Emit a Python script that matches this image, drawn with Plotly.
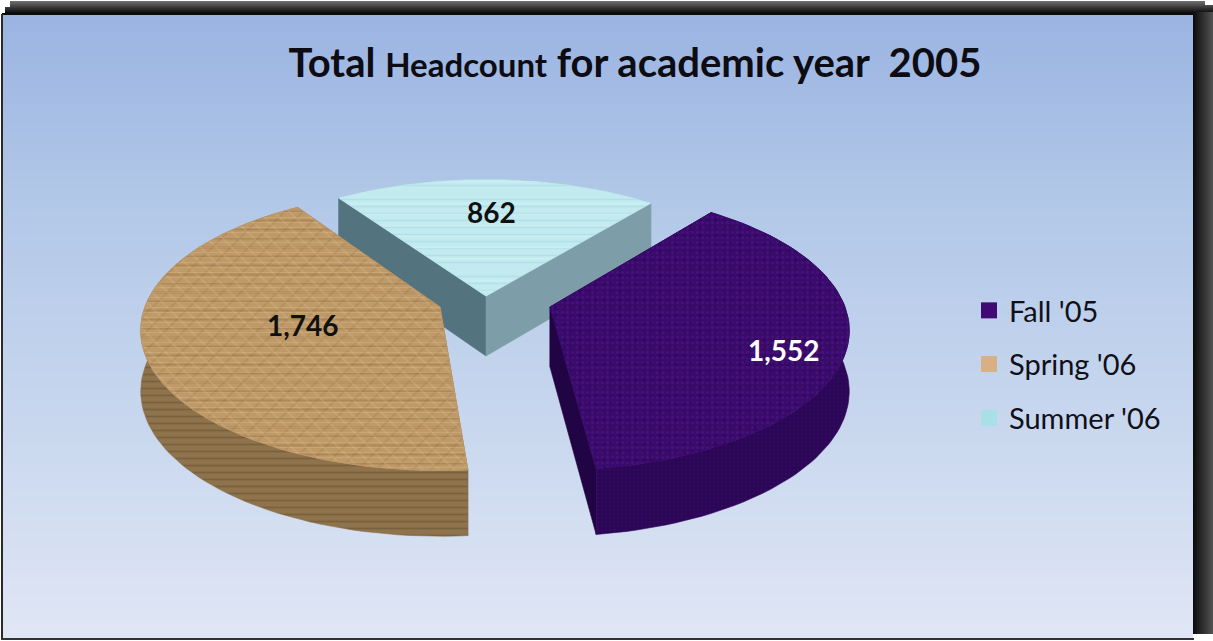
import math
import plotly.graph_objects as go

categories = ["Fall '05", "Spring '06", "Summer '06"]
values = [1552, 1746, 862]
title_head = "Total "
title_mid = "Headcount"
title_tail = " for academic year  2005"

W, H = 1213, 641
total = sum(values)
spans = [v / total * 360 for v in values]

# per-slice exploded placement
apex = [(550, 307), (440, 307), (486, 296)]
start = [38.2, 175.5, 325.0]
radius = [295, 295, 292]
KY, P, T = 136, 0.168, 60


def proj(c, ang, r_frac=1.0, R=295):
    a = math.radians(ang)
    X, Y = math.sin(a) * r_frac, math.cos(a) * r_frac
    s = 1 / (1 + P * Y)
    return c[0] + R * X * s, c[1] - KY * Y * s, T * s ** 0.5


def top_arc(i):
    n = 80
    return [proj(apex[i], start[i] + spans[i] * k / n, 1.0, radius[i]) for k in range(n + 1)]


def lerp(c1, c2, t):
    return tuple(c1[j] + (c2[j] - c1[j]) * t for j in range(3))


def rgb(c):
    return "rgb(%d,%d,%d)" % tuple(round(v) for v in c)


fig = go.Figure()
shapes = []


def rect(x0, y0, x1, y1, color):
    shapes.append(dict(type="rect", xref="x", yref="y", x0=x0, y0=y0, x1=x1, y1=y1,
                       fillcolor=color, line_width=0, layer="below"))


# panel gradient
stops = [(15, (155, 180, 226)), (200, (178, 200, 232)), (420, (200, 215, 238)), (638, (224, 230, 245))]
for y in range(15, 639, 4):
    for (a, ca), (b, cb) in zip(stops, stops[1:]):
        if a <= y <= b:
            rect(3, y, 1193, y + 4, rgb(lerp(ca, cb, (y - a) / (b - a))))
            break
# top band
for y in range(1, 14):
    rect(5 if y > 6 else 10, y, 1205 if y < 5 else 1213, y + 1,
         rgb(lerp((118, 118, 118), (5, 5, 5), y / 13)))
rect(2, 13, 1193, 15, "#0a0a0a")
# right band
for x in range(1193, 1213):
    rect(x, 12, x + 1, 634, rgb(lerp((12, 12, 12), (85, 85, 85), (x - 1193) / 20)))
# left and bottom hairlines
rect(1, 14, 3, 640, "#2a2a2a")
rect(1, 638, 1194, 640, "#333333")


def poly(pts, color, pattern=None, line=None, width=0.6):
    xs = [p[0] for p in pts] + [pts[0][0]]
    ys = [p[1] for p in pts] + [pts[0][1]]
    kw = {}
    if pattern:
        kw["fillpattern"] = pattern
    fig.add_trace(go.Scatter(x=xs, y=ys, mode="lines", fill="toself", fillcolor=color,
                             line=dict(width=width, color=line or color), hoverinfo="skip",
                             showlegend=False, **kw))


top_base = ["#3a0a6c", "#bf9a68", "#c2eaef"]
top_layers = [
    [dict(shape=".", fgcolor="rgba(105,35,165,0.55)", size=5, solidity=0.3),
     dict(shape=".", fgcolor="rgba(30,5,70,0.55)", size=8, solidity=0.3)],
    [dict(shape="-", fgcolor="rgba(120,88,48,0.55)", size=9, solidity=0.22),
     dict(shape="/", fgcolor="rgba(105,78,42,0.30)", size=13, solidity=0.14),
     dict(shape="\\", fgcolor="rgba(235,205,160,0.40)", size=11, solidity=0.14),
     dict(shape="-", fgcolor="rgba(235,210,165,0.40)", size=5, solidity=0.2)],
    [dict(shape="-", fgcolor="rgba(135,205,222,0.6)", size=7, solidity=0.2),
     dict(shape="-", fgcolor="rgba(225,248,250,0.6)", size=11, solidity=0.15)],
]
side_style = [
    ("#2b0655", dict(shape=".", fgcolor="#3a0a6a", bgcolor="#2b0655", size=4, solidity=0.3)),
    ("#8b7049", dict(shape="-", fgcolor="#64502f", bgcolor="#8f734d", size=7, solidity=0.25)),
    ("#7d9ea8", None),
]
face_at_start = ["#210444", "#6f5a3a", "#53747f"]
face_at_end = ["#210444", "#6f5a3a", "#7d9ea8"]

for i in [2, 1, 0]:
    arc = top_arc(i)
    a = apex[i]
    ap_low = (a[0], a[1] + T)
    e = arc[-1]
    s0 = arc[0]
    band = [p[:2] for p in arc] + [(p[0], p[1] + p[2]) for p in reversed(arc)]
    if i == 2:
        poly(band, side_style[i][0], side_style[i][1])
    poly([a[:2], s0[:2], (s0[0], s0[1] + s0[2]), ap_low], face_at_start[i])
    poly([a[:2], e[:2], (e[0], e[1] + e[2]), ap_low], face_at_end[i])
    if i != 2:
        poly(band, side_style[i][0], side_style[i][1])
    # top face with stacked texture layers
    outline = [a[:2]] + [p[:2] for p in arc]
    poly(outline, top_base[i])
    for layer in top_layers[i]:
        poly(outline, "rgba(0,0,0,0)", dict(bgcolor="rgba(0,0,0,0)", **layer), line=top_base[i], width=0.3)

# legend entries
legend_colors = ["#3f0a72", "#d9b083", "#a9dfe6"]
for name, col in zip(categories, legend_colors):
    fig.add_trace(go.Scatter(x=[None], y=[None], mode="markers", name=name, legendgroup=name,
                             marker=dict(symbol="square", size=17, color=col)))

label_pos = [(784, 350), (303, 325), (491, 212)]
label_col = ["white", "#101010", "#101010"]
annotations = [dict(x=p[0], y=p[1], xref="x", yref="y", text="<b>%s</b>" % f"{v:,}", showarrow=False,
                    font=dict(family="Lato", size=28, color=c))
               for v, p, c in zip(values, label_pos, label_col)]

fig.update_layout(
    width=W, height=H, margin=dict(l=0, r=0, t=0, b=0),
    paper_bgcolor="white", plot_bgcolor="rgba(0,0,0,0)",
    xaxis=dict(range=[0, W], visible=False, fixedrange=True),
    yaxis=dict(range=[H, 0], visible=False, fixedrange=True),
    shapes=shapes, annotations=annotations,
    title=dict(text=f"<b>{title_head}<span style='font-size:33px'>{title_mid}</span>{title_tail}</b>",
               x=635 / W, y=1 - 63 / H, xanchor="center", yanchor="middle",
               font=dict(family="Lato", size=40, color="#0c0c12")),
    legend=dict(x=969 / W, y=1 - 285 / H, xanchor="left", yanchor="top", bgcolor="rgba(0,0,0,0)",
                tracegroupgap=13, itemwidth=30, font=dict(family="Lato", size=29, color="#101018")),
    showlegend=True,
)
fig.write_html("out.html", config={"displayModeBar": False},
               post_script="document.body.style.margin='0';document.documentElement.style.overflow='hidden';")
